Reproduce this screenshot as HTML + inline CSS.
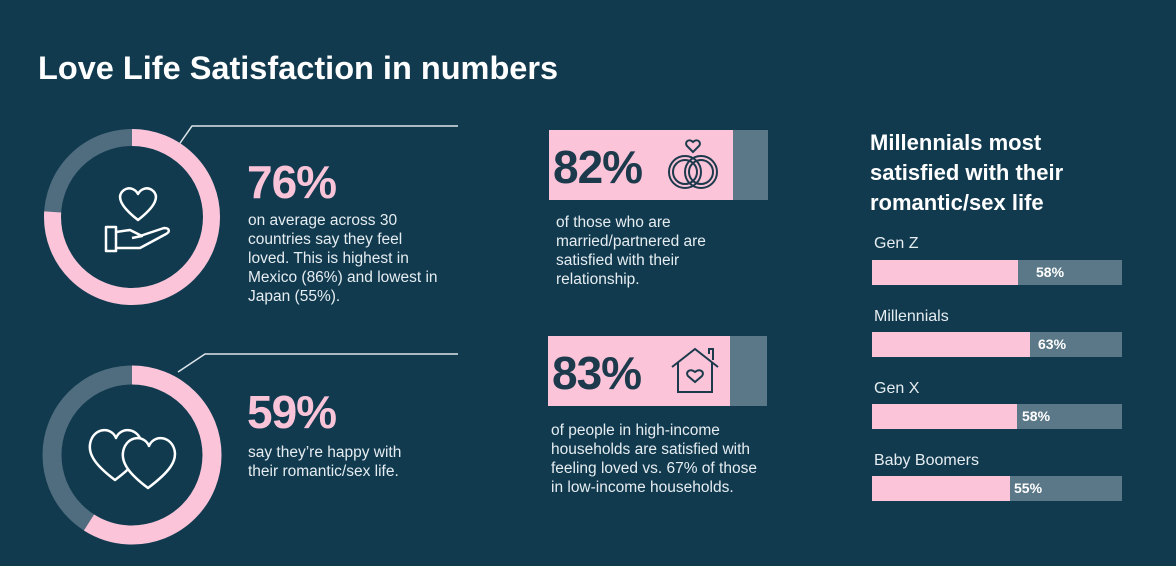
<!DOCTYPE html>
<html><head><style>
body{margin:0;width:1176px;height:566px;background:#113a4f;overflow:hidden;position:relative;font-family:"Liberation Sans",sans-serif;color:#e8eef2}
.a{position:absolute}
.big{font-weight:900;font-size:46px;letter-spacing:-1px;color:#f9c3d8}
.t{font-size:15.5px;line-height:19px;color:#e6edf1}
.lab{font-size:16px;color:#e6edf1}
.bar{position:absolute;left:872px;width:250px;height:25px;background:#5b7888}
.bar div{height:100%;background:#fbc4d9}
.bar span{position:absolute;top:4px;font-weight:bold;font-size:14px;color:#fff}
</style></head><body>
<div class="a" style="left:38px;top:50px;font-size:32.5px;font-weight:bold;color:#fff">Love Life Satisfaction in numbers</div>
<svg class="a" style="left:0;top:0" width="1176" height="566">
<g fill="none">
<polyline points="178,146 192,126 458,126" stroke="#dfe6ea" stroke-width="1.5"/>
<polyline points="178,372 205,354 458,354" stroke="#dfe6ea" stroke-width="1.5"/>
<circle cx="132" cy="217" r="79.5" stroke="#4f6d7e" stroke-width="17"/>
<circle cx="132" cy="217" r="79.5" stroke="#fbc4d9" stroke-width="17" stroke-dasharray="379.6 500" transform="rotate(-90 132 217)"/>
<circle cx="132" cy="455" r="80" stroke="#4f6d7e" stroke-width="19"/>
<circle cx="132" cy="455" r="80" stroke="#fbc4d9" stroke-width="19" stroke-dasharray="296.6 600" transform="rotate(-90 132 455)"/>
<g stroke="#fff" stroke-width="2.5" stroke-linejoin="round">
<path d="M138 220 C120 206 116 196 124 190 C130 186 136 190 138 194 C140 190 146 186 152 190 C160 196 156 206 138 220Z"/>
<rect x="106" y="227" width="10" height="24"/>
<path d="M116 232 L130 230 L142 236 L132 238 M140 236 L164 228 C170 228 170 232 166 234 L140 248 L116 248"/>
<path d="M115 480 C95 465 85 452 92 438 C98 427 112 428 116 438 C120 428 134 427 140 438 C147 452 135 465 115 480Z"/>
<path d="M148 488 C128 473 118 460 125 446 C131 435 145 436 149 446 C153 436 167 435 173 446 C180 460 168 473 148 488Z" fill="#113a4f"/>
</g></g>
<rect x="549" y="130" width="184" height="70" fill="#fbc4d9"/><rect x="733" y="130" width="35" height="70" fill="#5b7888"/>
<rect x="548" y="336" width="182" height="70" fill="#fbc4d9"/><rect x="730" y="336" width="37" height="70" fill="#5b7888"/>
<g fill="none" stroke="#1c3a4c" stroke-width="2">
<circle cx="685" cy="172" r="16"/><circle cx="685" cy="172" r="12"/>
<circle cx="701" cy="172" r="16"/><circle cx="701" cy="172" r="12"/>
<path d="M693 152 L687 146 C684 142 689 138 693 142 C697 138 702 142 699 146Z"/>
<path d="M672 367 L695 349 L718 367 M678 362 V392 H712 V362 M709 354 V349 H713 V360"/>
<path d="M695 382 L688 376 C685 372 690 368 695 372 C700 368 705 372 702 376Z"/>
</g>
</svg>
<div class="a big" style="left:247px;top:155px">76%</div>
<div class="a t" style="left:248px;top:211px">on average across 30<br>countries say they feel<br>loved. This is highest in<br>Mexico (86%) and lowest in<br>Japan (55%).</div>
<div class="a big" style="left:247px;top:385px">59%</div>
<div class="a t" style="left:248px;top:443px">say they’re happy with<br>their romantic/sex life.</div>
<div class="a big" style="left:553px;top:140px;color:#1c3a4c">82%</div>
<div class="a t" style="left:556px;top:213px">of those who are<br>married/partnered are<br>satisfied with their<br>relationship.</div>
<div class="a big" style="left:552px;top:346px;color:#1c3a4c">83%</div>
<div class="a t" style="left:551px;top:421px">of people in high-income<br>households are satisfied with<br>feeling loved vs. 67% of those<br>in low-income households.</div>
<div class="a" style="left:870px;top:128px;font-size:22px;font-weight:900;line-height:30px;color:#fff">Millennials most<br>satisfied with their<br>romantic/sex life</div>
<div class="a lab" style="left:874px;top:235px">Gen Z</div>
<div class="bar" style="top:260px"><div style="width:146px"></div><span style="left:164px">58%</span></div>
<div class="a lab" style="left:874px;top:308px">Millennials</div>
<div class="bar" style="top:332px"><div style="width:158px"></div><span style="left:166px">63%</span></div>
<div class="a lab" style="left:874px;top:380px">Gen X</div>
<div class="bar" style="top:404px"><div style="width:145px"></div><span style="left:150px">58%</span></div>
<div class="a lab" style="left:874px;top:452px">Baby Boomers</div>
<div class="bar" style="top:476px"><div style="width:138px"></div><span style="left:142px">55%</span></div>
</body></html>
